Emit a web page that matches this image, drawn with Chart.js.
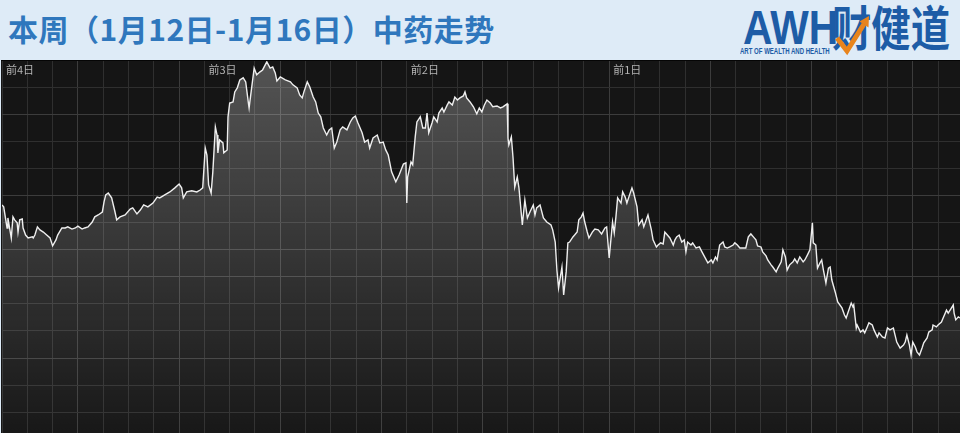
<!DOCTYPE html>
<html>
<head>
<meta charset="utf-8">
<script src="https://cdn.jsdelivr.net/npm/chart.js@4/dist/chart.umd.min.js"></script>
<style>
  html,body{margin:0;padding:0;}
  body{width:960px;height:433px;overflow:hidden;background:#deebf7;position:relative;font-family:"Noto Sans CJK SC","Noto Sans",sans-serif;}
  #title{position:absolute;left:8px;top:8px;font-size:30px;line-height:40px;font-weight:700;color:#2f77bd;white-space:nowrap;letter-spacing:0.5px;}
  #awh{position:absolute;left:743px;top:4px;font:700 48px/48px "Liberation Sans Narrow","Liberation Sans",sans-serif;color:#1d5ca6;transform:scaleX(0.85);transform-origin:left top;white-space:nowrap;}
  #cjd{position:absolute;left:832px;top:1px;font-size:48px;line-height:48px;font-weight:700;color:#1d5ca6;transform:scaleX(0.82);transform-origin:left top;white-space:nowrap;}
  #sub{position:absolute;left:740px;top:46px;font:700 8.5px/10px "Liberation Sans Narrow","Liberation Sans",sans-serif;color:#1d5ca6;transform:scaleX(0.71);transform-origin:left top;white-space:nowrap;}
  #arrow{position:absolute;left:0;top:0;}
  #plotbg{position:absolute;left:1px;top:60px;width:959px;height:372px;background:#151515;border-top:1px solid #050505;}
  #c{position:absolute;left:1px;top:60px;}
  .day{position:absolute;top:62px;font-size:11px;line-height:14px;color:#b4b4b4;white-space:nowrap;}
</style>
</head>
<body>
<div id="title">本周（1月12日-1月16日）中药走势</div>
<div id="awh">AWH</div>
<div id="sub">ART OF WEALTH AND HEALTH</div>
<div id="cjd">财健道</div>
<svg id="arrow" width="960" height="60">
  <polyline points="837,38 847,51 864,24" fill="none" stroke="#e8841c" stroke-width="5" stroke-linejoin="miter"/>
  <polygon points="869,16 868.5,27.5 859.5,21.5" fill="#e8841c"/>
</svg>
<div id="plotbg"></div>
<canvas id="c" width="959" height="373"></canvas>
<div id="labels"></div>
<script>
// trading minutes from the start of the week (each day = 240 minutes)
const dayLabels = ['前4日', '前3日', '前2日', '前1日'];
const dayStarts = [0, 240, 480, 720];

const times = [
  0,2,6,7,11,13,15,18,19,21,24,25,28,31,36,37,39,42,45,49,53,57,60,64,66,71,75,78,83,87,90,95,98,102,107,110,114,119,121,123,126,130,134,136,140,146,152,155,160,164,168,173,179,184,187,193,199,205,210,213,215,219,225,231,235,238,
  241,243,245,248,250,253,255,256,258,262,263,267,268,270,274,276,279,282,286,289,292,293,296,299,302,306,309,314,318,321,324,326,330,336,342,345,350,353,356,358,362,365,369,372,375,378,381,385,388,391,394,397,401,404,409,413,416,419,422,427,430,434,436,440,445,448,452,455,458,462,467,471,476,479,
  480,481,485,487,490,492,496,499,502,504,506,510,512,516,518,522,524,528,530,534,537,540,543,547,549,551,555,559,563,566,569,572,575,579,582,587,591,594,599,600,601,604,606,608,611,613,617,620,623,626,630,632,634,638,642,646,651,653,656,658,660,664,666,669,671,673,677,679,682,684,687,689,691,694,696,700,703,707,711,715,717,
  720,722,724,726,728,730,734,736,739,741,743,747,749,753,755,759,761,764,766,770,772,776,778,781,784,786,789,792,796,798,800,803,806,809,811,813,817,819,823,827,830,834,837,841,843,846,848,851,855,857,860,863,867,869,872,875,879,882,885,888,891,894,896,900,902,906,908,912,914,918,920,924,926,929,931,934,938,940,943,946,950,952,955,958,
  961,962,965,967,970,972,974,977,980,982,984,988,991,996,999,1001,1003,1007,1009,1010,1013,1014,1018,1021,1023,1026,1028,1032,1034,1038,1040,1044,1047,1050,1053,1057,1059,1061,1065,1069,1071,1073,1076,1078,1080,1083,1085,1088,1091,1093,1097,1099,1103,1104,1108,1110,1114,1116,1120,1122,1125,1128,1129,1131,1134,1136
];

const values = [
  76.5,75.8,68.0,71.7,64.3,72.1,71.0,69.9,66.5,71.0,71.3,68.0,65.4,64.3,64.7,64.3,65.4,68.4,67.3,66.5,65.4,64.3,61.4,63.6,65.4,68.0,68.0,68.4,67.6,68.0,68.7,67.6,68.0,68.4,70.2,72.1,72.8,73.9,77.6,80.2,80.9,79.1,73.9,71.0,72.1,72.8,75.0,75.4,73.2,74.6,76.5,75.8,77.2,79.4,79.1,80.2,81.3,82.8,84.2,82.8,79.1,81.3,81.7,81.3,82.0,82.8,
  97.5,94.9,83.9,80.9,88.7,105.3,102.3,95.7,100.5,99.4,95.7,96.8,109.0,114.1,114.5,118.2,119.7,122.6,123.4,121.9,114.5,112.3,119.7,127.0,124.5,125.6,126.3,129.3,127.0,127.4,125.2,122.2,123.7,122.6,121.9,120.8,119.7,117.1,116.0,118.2,121.9,120.0,116.3,114.5,110.4,109.0,104.9,102.3,104.2,104.9,97.5,99.7,104.2,105.3,104.2,107.1,108.6,109.3,106.8,103.1,99.7,100.5,97.5,101.2,102.3,99.4,99.7,96.8,94.9,88.7,85.0,87.6,91.6,92.0,
  77.2,86.8,92.4,91.3,101.6,107.1,109.0,104.9,104.9,110.4,103.1,106.8,109.0,107.1,110.4,112.3,110.8,113.4,114.5,113.4,116.3,115.2,116.0,116.7,118.2,116.0,114.5,112.7,110.1,112.3,110.8,113.4,115.2,114.1,112.7,113.0,112.3,112.7,113.8,101.2,98.6,101.6,93.8,83.1,86.8,82.8,69.1,78.3,71.7,73.9,76.5,72.8,75.4,76.5,71.7,70.2,69.1,67.3,62.8,52.5,45.9,53.6,43.3,51.8,62.5,62.8,64.7,65.4,66.5,71.0,72.1,73.5,70.2,66.5,64.3,66.5,67.6,67.3,65.8,68.0,68.4,
  56.9,63.6,70.2,66.2,72.1,79.1,77.2,81.3,79.4,77.2,79.1,82.8,80.9,75.8,69.1,71.0,68.4,71.0,72.8,67.3,63.6,61.0,61.7,62.5,62.1,66.5,65.4,64.3,61.7,63.6,64.7,65.4,62.8,63.6,59.2,62.8,61.7,62.5,60.6,61.0,59.2,56.9,55.1,56.2,55.1,57.3,56.2,61.7,62.8,61.0,60.6,61.0,61.7,62.5,61.7,60.6,60.6,60.6,64.7,65.8,64.7,63.6,61.4,61.0,59.2,57.7,56.2,54.4,53.6,51.8,53.2,55.5,59.9,57.3,52.5,54.4,55.5,56.6,55.1,57.3,55.5,56.2,58.0,59.9,
  69.9,62.5,61.7,53.2,55.1,56.2,52.5,47.7,53.2,53.6,48.8,44.4,40.7,38.5,35.9,34.8,36.6,40.3,38.9,39.6,31.1,32.2,29.6,30.4,29.3,31.5,33.0,32.2,30.4,27.8,29.3,27.8,27.4,31.1,30.4,31.1,28.5,25.9,23.7,24.8,25.9,28.5,24.8,21.1,25.9,24.1,22.3,21.1,23.7,25.6,27.4,29.6,30.4,32.2,31.5,32.2,33.3,34.8,37.7,36.6,38.1,39.6,36.6,34.1,35.2,34.8
];

const xMin = 0, xMax = 1136, xStep = 30;
const yMin = -7.64, yMax = 129.6, yStep = 10;
const brightX = [3, 7, 11, 15, 19, 24, 28, 32, 36];
const brightY = [20, 50, 60, 80, 110];

const points = times.map((t, i) => ({ x: t, y: values[i] }));

const labelsDiv = document.getElementById('labels');
const spans = dayLabels.map(t => {
  const s = document.createElement('span');
  s.className = 'day';
  s.textContent = t;
  labelsDiv.appendChild(s);
  return s;
});

const dayLabelPlugin = {
  id: 'dayLabels',
  afterRender(chart) {
    const xs = chart.scales.x;
    const off = chart.canvas.offsetLeft;
    dayStarts.forEach((d, i) => {
      spans[i].style.left = (off + xs.getPixelForValue(d) + 4) + 'px';
    });
  }
};

new Chart(document.getElementById('c'), {
  type: 'line',
  data: {
    datasets: [{
      data: points,
      borderColor: '#efefef',
      borderWidth: 1.4,
      pointRadius: 0,
      tension: 0,
      fill: 'start',
      backgroundColor(ctx) {
        const ca = ctx.chart.chartArea;
        if (!ca) return 'rgba(255,255,255,0.15)';
        const g = ctx.chart.ctx.createLinearGradient(0, ca.top, 0, ca.bottom);
        g.addColorStop(0, 'rgba(255,255,255,0.27)');
        g.addColorStop(1, 'rgba(255,255,255,0.015)');
        return g;
      }
    }]
  },
  options: {
    responsive: false,
    animation: false,
    events: [],
    layout: { padding: { left: 1, top: 1, right: 0, bottom: 0 } },
    plugins: { legend: { display: false }, tooltip: { enabled: false }, title: { display: false } },
    scales: {
      x: {
        type: 'linear', min: xMin, max: xMax,
        afterBuildTicks(scale) {
          const t = [];
          for (let v = xMin; v <= xMax; v += xStep) t.push({ value: v });
          scale.ticks = t;
        },
        ticks: { display: false },
        border: { display: false },
        grid: {
          drawTicks: false,
          lineWidth: 1,
          color(ctx) {
            const idx = Math.round(ctx.tick.value / xStep);
            return brightX.includes(idx) ? '#3c3c3c' : '#2f2f2f';
          }
        }
      },
      y: {
        type: 'linear', min: yMin, max: yMax,
        afterBuildTicks(scale) {
          const t = [];
          for (let v = 0; v <= 120; v += yStep) t.push({ value: v });
          scale.ticks = t;
        },
        ticks: { display: false },
        border: { display: false },
        grid: {
          drawTicks: false,
          lineWidth: 1,
          color(ctx) {
            return brightY.includes(Math.round(ctx.tick.value)) ? '#3c3c3c' : '#2f2f2f';
          }
        }
      }
    }
  },
  plugins: [dayLabelPlugin]
});
</script>
</body>
</html>
